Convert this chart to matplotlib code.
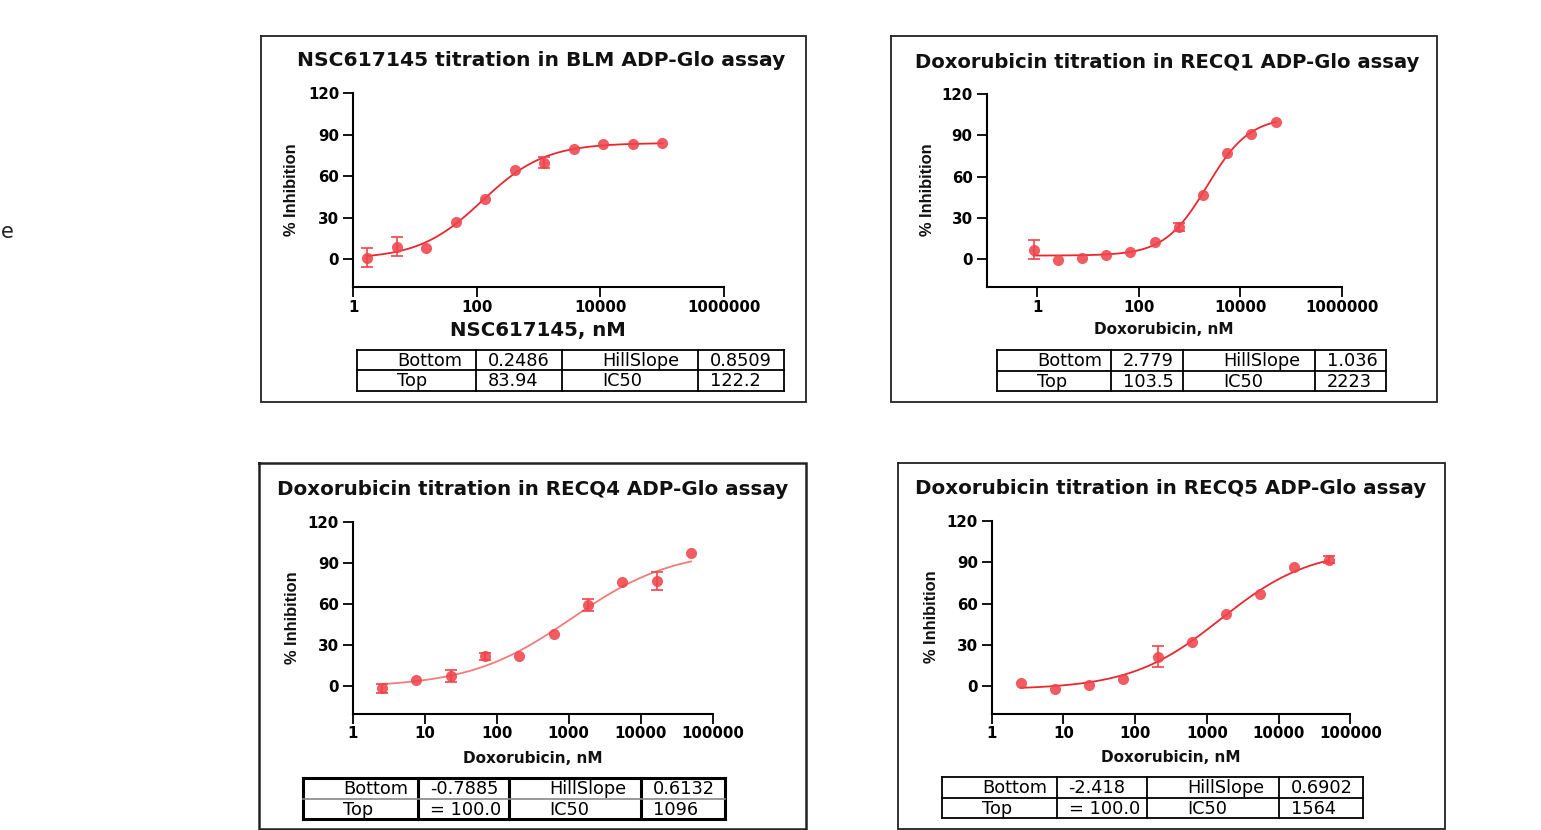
import numpy as np
import matplotlib
matplotlib.use('Agg')
import matplotlib.pyplot as plt
from matplotlib.ticker import FixedLocator, FixedFormatter, NullLocator

W, H = 1541, 830

# ---- data ----
blm_conc = [1.69, 5.08, 15.2, 45.7, 137, 412, 1235, 3704, 11111, 33333, 100000]
blm_inh = [1.2, 9.2, 8.2, 26.8, 43.7, 64.5, 69.8, 79.4, 83.1, 83.1, 83.8]
blm_err = [6.6, 7.0, 0, 0, 0, 0, 4.0, 0, 0, 0, 0]
blm_fit = [0.2486, 83.94, 0.8509, 122.2]  # bottom, top, hill, ic50
blm_table = [['Bottom', '0.2486', 'HillSlope', '0.8509'],
             ['Top', '83.94', 'IC50', '122.2']]

recq1_conc = [0.847, 2.54, 7.62, 22.9, 68.6, 206, 617, 1852, 5556, 16667, 50000]
recq1_inh = [7.2, -0.7, 0.7, 3.4, 5.1, 12.3, 23.7, 46.4, 77.3, 91.3, 99.5]
recq1_err = [6.8, 0, 0, 0, 0, 0, 3.0, 0, 0, 0, 0]
recq1_fit = [2.779, 103.5, 1.036, 2223]
recq1_table = [['Bottom', '2.779', 'HillSlope', '1.036'],
               ['Top', '103.5', 'IC50', '2223']]

recq4_conc = [2.54, 7.62, 22.9, 68.6, 206, 617, 1852, 5556, 16667, 50000]
recq4_inh = [-1.5, 4.6, 7.5, 21.8, 22.3, 38.0, 59.5, 76.2, 77.0, 97.5]
recq4_err = [3.5, 0, 4.2, 2.5, 0, 0, 4.5, 0, 6.5, 0]
recq4_fit = [-0.7885, 100.0, 0.6132, 1096]
recq4_table = [['Bottom', '-0.7885', 'HillSlope', '0.6132'],
               ['Top', '= 100.0', 'IC50', '1096']]

recq5_conc = [2.54, 7.62, 22.9, 68.6, 206, 617, 1852, 5556, 16667, 50000]
recq5_inh = [2.2, -1.7, 1.2, 5.1, 21.5, 31.9, 52.7, 66.8, 86.6, 91.9]
recq5_err = [0, 0, 0, 0, 7.5, 0, 0, 0, 0, 2.5]
recq5_fit = [-2.418, 100.0, 0.6902, 1564]
recq5_table = [['Bottom', '-2.418', 'HillSlope', '0.6902'],
               ['Top', '= 100.0', 'IC50', '1564']]

y_ticks = [0, 30, 60, 90, 120]

POINT = '#f0444c'
CURVE = '#e8282e'

fig = plt.figure(figsize=(W / 100, H / 100), dpi=100)
ov = fig.add_axes([0, 0, 1, 1])
ov.set_xlim(0, W)
ov.set_ylim(H, 0)
ov.axis('off')


def px_axes(left, top, right, bottom):
    ax = fig.add_axes([left / W, 1 - bottom / H, (right - left) / W, (bottom - top) / H])
    ax.set_facecolor('none')
    return ax


def box(x0, y0, x1, y1, lw):
    ov.plot([x0, x1, x1, x0, x0], [y0, y0, y1, y1, y0], color='#222222', lw=lw,
            solid_joinstyle='miter')


def draw_table(cols, rows, cells, lw, mid_color='black', mid_lw=None):
    for x in cols:
        ov.plot([x, x], [rows[0], rows[-1]], color='black', lw=lw)
    ov.plot([cols[0], cols[-1]], [rows[0], rows[0]], color='black', lw=lw)
    ov.plot([cols[0], cols[-1]], [rows[-1], rows[-1]], color='black', lw=lw)
    ov.plot([cols[0], cols[-1]], [rows[1], rows[1]], color=mid_color,
            lw=mid_lw if mid_lw else lw)
    offs = [40, 12, 40, 12]
    for r in range(2):
        yc = (rows[r] + rows[r + 1]) / 2 + 0.5
        for c in range(4):
            ov.text(cols[c] + offs[c], yc, cells[r][c], ha='left', va='center',
                    fontsize=12.8, family='DejaVu Sans', color='black')


def panel(ax, conc, inh, err, fit, xlim, xticks, xlabels, curve_color):
    conc = np.array(conc)
    inh = np.array(inh)
    err = np.array(err)
    b, t, h, ic = fit
    xs = np.logspace(np.log10(conc.min()), np.log10(conc.max()), 300)
    ys = b + (t - b) / (1 + (ic / xs) ** h)
    ax.plot(xs, ys, color=curve_color, lw=1.3, zorder=2)
    m = err > 0
    ax.errorbar(conc[m], inh[m], yerr=err[m], fmt='none', ecolor=POINT,
                elinewidth=1.2, capsize=4, capthick=1.2, zorder=3)
    ax.plot(conc, inh, 'o', color=POINT, alpha=0.88, markersize=8,
            markeredgewidth=0, zorder=4)
    ax.set_xscale('log')
    ax.set_xlim(*xlim)
    ax.set_ylim(-20, 120)
    ax.xaxis.set_major_locator(FixedLocator(xticks))
    ax.xaxis.set_major_formatter(FixedFormatter(xlabels))
    ax.xaxis.set_minor_locator(NullLocator())
    ax.set_yticks(y_ticks)
    ax.set_yticklabels([str(v) for v in y_ticks])
    for s in ['top', 'right']:
        ax.spines[s].set_visible(False)
    for s in ['left', 'bottom']:
        ax.spines[s].set_linewidth(1.5)
    ax.tick_params(axis='both', width=1.3, length=7, labelsize=10.8, pad=3)
    ax.tick_params(axis='x', pad=2)
    for lab in ax.get_xticklabels() + ax.get_yticklabels():
        lab.set_fontweight('bold')
        lab.set_family('DejaVu Sans')


# panel boxes
box(261, 36, 806, 402, 1.3)
box(891, 36, 1437, 402, 1.3)
box(259, 463, 806, 829, 1.8)
box(898, 463, 1445, 829, 1.3)

# titles
title_kw = dict(ha='center', va='center', fontweight='bold',
                family='DejaVu Sans', color='#111111')
ov.text(541, 61, 'NSC617145 titration in BLM ADP-Glo assay', fontsize=14.6, **title_kw)
ov.text(1167, 62, 'Doxorubicin titration in RECQ1 ADP-Glo assay', fontsize=14.1, **title_kw)
ov.text(533, 489, 'Doxorubicin titration in RECQ4 ADP-Glo assay', fontsize=14.3, **title_kw)
ov.text(1171, 488, 'Doxorubicin titration in RECQ5 ADP-Glo assay', fontsize=14.3, **title_kw)

wide_ticks = [1, 100, 10000, 1000000]
wide_labels = ['1', '100', '10000', '1000000']
dec_ticks = [1, 10, 100, 1000, 10000, 100000]
dec_labels = ['1', '10', '100', '1000', '10000', '100000']

ax1 = px_axes(353, 93, 724, 287)
panel(ax1, blm_conc, blm_inh, blm_err, blm_fit, (1, 1e6), wide_ticks, wide_labels, CURVE)
ax2 = px_axes(986.5, 94, 1341.6, 287)
panel(ax2, recq1_conc, recq1_inh, recq1_err, recq1_fit, (0.1, 1e6), wide_ticks, wide_labels, CURVE)
ax3 = px_axes(352.7, 522, 712.7, 713.7)
panel(ax3, recq4_conc, recq4_inh, recq4_err, recq4_fit, (1, 1e5), dec_ticks, dec_labels, '#f27b7b')
ax4 = px_axes(991.7, 521, 1350.3, 713.7)
panel(ax4, recq5_conc, recq5_inh, recq5_err, recq5_fit, (1, 1e5), dec_ticks, dec_labels, CURVE)

# axis labels
ylab_kw = dict(ha='center', va='center', rotation=90, fontsize=11.8,
               fontweight='bold', family='Liberation Sans', color='#111111')
ov.text(292, 190, '% Inhibition', **ylab_kw)
ov.text(927.5, 190, '% Inhibition', **ylab_kw)
ov.text(293, 618, '% Inhibition', **ylab_kw)
ov.text(932, 617, '% Inhibition', **ylab_kw)

ov.text(538, 330, 'NSC617145, nM', ha='center', va='center', fontsize=14.2,
        fontweight='bold', family='DejaVu Sans', color='#111111')
xlab_kw = dict(ha='center', va='center', fontsize=11, fontweight='bold',
               family='DejaVu Sans', color='#111111')
ov.text(1164, 329, 'Doxorubicin, nM', **xlab_kw)
ov.text(533, 758, 'Doxorubicin, nM', **xlab_kw)
ov.text(1171, 757, 'Doxorubicin, nM', **xlab_kw)

# parameter tables
draw_table([357, 476, 562, 698, 784], [350, 370.5, 391], blm_table, 1.3)
draw_table([997, 1111, 1183, 1314.6, 1385.8], [350, 371, 391], recq1_table, 1.3)
draw_table([303, 418.4, 509.2, 641.2, 725], [778, 798.7, 819.3], recq4_table, 2.2,
           mid_color='#888888', mid_lw=1.2)
draw_table([942, 1056.6, 1147.5, 1278.8, 1362.6], [777.3, 798, 818], recq5_table, 1.3)

# stray letter at the left edge of the original image
ov.text(1, 232, 'e', ha='left', va='center', fontsize=15, family='DejaVu Sans',
        color='#222222')

fig.savefig('out.png', dpi=100)
